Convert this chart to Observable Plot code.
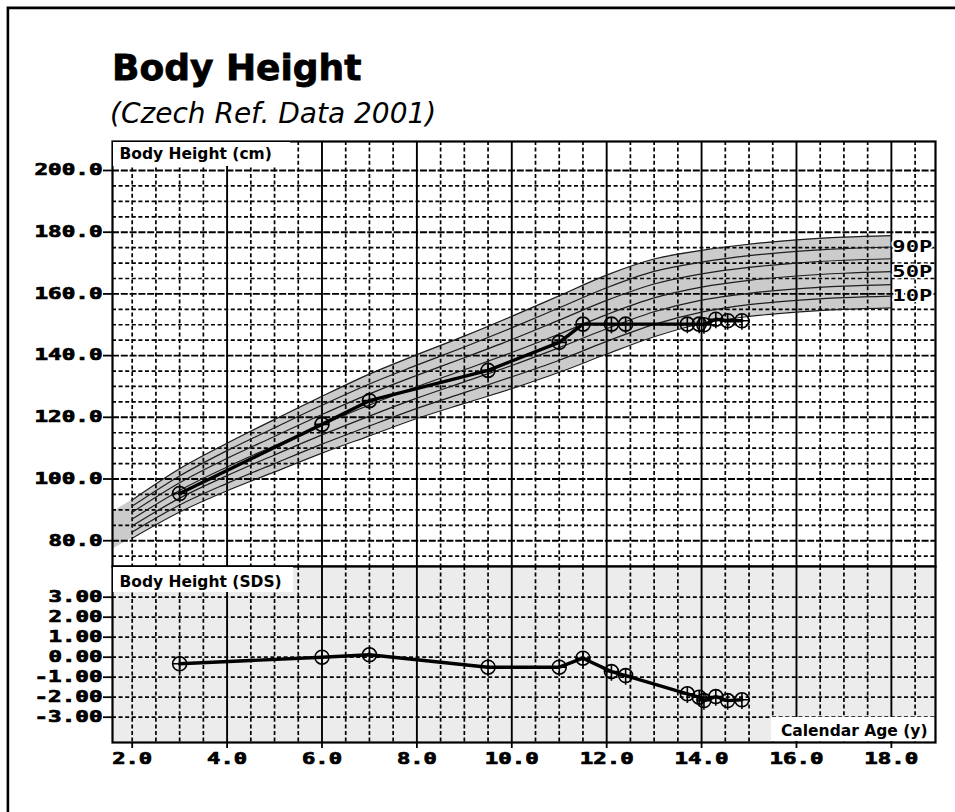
<!DOCTYPE html>
<html>
<head>
<meta charset="utf-8">
<script src="https://cdn.jsdelivr.net/npm/d3@7"></script>
<script src="https://cdn.jsdelivr.net/npm/@observablehq/plot@0.6"></script>
<style>
  body { margin: 0; background: #fff; }
  #wrap { position: relative; width: 955px; height: 812px; overflow: hidden; background: #fff; }
  #wrap > svg, #wrap > div { position: absolute; left: 0; }
  #topPlot { top: 130px; }
  #botPlot { top: 564px; }
  #overlay { top: 0; pointer-events: none; }
</style>
</head>
<body>
<div id="wrap">
  <div id="topPlot"></div>
  <div id="botPlot"></div>
</div>
<script>
// ---------- data ----------
const ageTicks = [2, 4, 6, 8, 10, 12, 14, 16, 18];
const xGridMajor = [4, 6, 8, 10, 12, 14, 16, 18];
const xGridMinor = [2.0, 2.5, 3.0, 3.5, 4.5, 5.0, 5.5, 6.5, 7.0, 7.5, 8.5, 9.0, 9.5, 10.5, 11.0, 11.5, 12.5, 13.0, 13.5, 14.5, 15.0, 15.5, 16.5, 17.0, 17.5, 18.5];
const heightTicks = [80, 100, 120, 140, 160, 180, 200];
const heightMinor = [75, 85, 90, 95, 105, 110, 115, 125, 130, 135, 145, 150, 155, 165, 170, 175, 185, 190, 195];
const sdsTicks = [3, 2, 1, 0, -1, -2, -3];

// Czech reference 2001 percentiles
const refAges = [1.5, 2, 3, 4, 5, 6, 7, 8, 9, 10, 11, 12, 13, 14, 15, 16, 17, 18];
const p3  = [76.5, 80.8, 89.3, 96.2, 102.3, 108.4, 114.0, 119.6, 124.5, 129.3, 134.6, 140.5, 146.1, 150.4, 152.7, 154.1, 155.0, 155.5];
const p10 = [78.4, 82.8, 91.6, 98.6, 105.0, 111.3, 117.2, 122.9, 128.0, 133.1, 138.5, 144.6, 150.1, 154.1, 156.5, 157.9, 158.8, 159.3];
const p25 = [80.3, 84.8, 93.8, 101.1, 107.8, 114.3, 120.4, 126.2, 131.5, 136.8, 142.6, 148.7, 154.2, 158.0, 160.2, 161.6, 162.5, 163.0];
const p50 = [82.5, 87.0, 96.3, 103.9, 110.8, 117.6, 124.0, 129.9, 135.4, 141.0, 147.0, 153.3, 158.7, 162.2, 164.4, 165.8, 166.7, 167.2];
const p75 = [84.7, 89.2, 98.8, 106.7, 113.8, 120.9, 127.6, 133.6, 139.3, 145.2, 151.5, 157.9, 163.2, 166.5, 168.6, 170.0, 170.9, 171.4];
const p90 = [86.6, 91.2, 101.0, 109.2, 116.6, 123.9, 130.8, 136.9, 142.8, 149.0, 155.5, 162.0, 167.3, 170.3, 172.4, 173.8, 174.7, 175.2];
const p97 = [88.5, 93.2, 103.3, 111.6, 119.3, 126.8, 134.0, 140.3, 146.3, 152.7, 159.4, 166.1, 171.3, 174.1, 176.1, 177.5, 178.4, 178.9];
const pctLabels = ["90P", "50P", "10P"];

// patient measurements
const patAges    = [3.0, 6.0, 7.0, 9.5, 11.0, 11.5, 12.1, 12.4, 13.7, 13.95, 14.05, 14.3, 14.55, 14.85];
const patHeights = [95.3, 117.7, 125.4, 135.2, 144.3, 150.2, 150.2, 150.2, 150.2, 150.2, 150.0, 151.8, 151.3, 151.3];
const patSDS     = [-0.33, 0.0, 0.12, -0.5, -0.5, -0.05, -0.72, -0.92, -1.83, -2.0, -2.17, -1.97, -2.17, -2.13];

// ---------- tables ----------
const ref = refAges.map((a, i) => ({age: a, p3: p3[i], p10: p10[i], p25: p25[i], p50: p50[i], p75: p75[i], p90: p90[i], p97: p97[i]}));
const refLines = ref.filter(d => d.age >= 2);
const last = ref[ref.length - 1];
const labelRows = [{label: pctLabels[0], v: last.p90}, {label: pctLabels[1], v: last.p50}, {label: pctLabels[2], v: last.p10}];
const patient = patAges.map((a, i) => ({age: a, height: patHeights[i], sds: patSDS[i]}));

// circle with crosshair marker
const crossCircle = {
  draw(ctx, size) {
    const r = Math.sqrt(size / Math.PI);
    ctx.moveTo(r, 0);
    ctx.arc(0, 0, r, 0, 2 * Math.PI);
    ctx.moveTo(-r, 0); ctx.lineTo(r, 0);
    ctx.moveTo(0, -r); ctx.lineTo(0, r * 1.3);
  }
};

const MONO = "DejaVu Sans Mono";
const xDomain = [1.585, 18.93];
const minorStyle = {stroke: "#000", strokeWidth: 1.7, strokeDasharray: "4,2.6"};
const majorV = {stroke: "#000", strokeWidth: 1.9};
const majorH = {stroke: "#000", strokeWidth: 1.9, strokeDasharray: "7,1.8"};
const tickText = {fontFamily: MONO, fontWeight: "bold", fontSize: 15, fill: "#000", strokeWidth: 1.8, label: null};

const pctKeys = ["p3", "p10", "p25", "p50", "p75", "p90", "p97"];

const topChart = Plot.plot({
  width: 955, height: 438,
  marginLeft: 112, marginRight: 20, marginTop: 11, marginBottom: 2,
  style: {background: "transparent", overflow: "visible"},
  x: {domain: xDomain, axis: null},
  y: {domain: [71.64, 209.4]},
  marks: [
    Plot.frame({fill: "#fff"}),
    Plot.areaY(ref, {x: "age", y1: "p3", y2: "p97", fill: "#cbcbcb", curve: "monotone-x", clip: true}),
    Plot.ruleX(xGridMinor, minorStyle),
    Plot.ruleX(xGridMajor, majorV),
    Plot.ruleY(heightMinor, minorStyle),
    Plot.ruleY(heightTicks, majorH),
    ...pctKeys.map(k => Plot.line(refLines, {x: "age", y: k, stroke: "#1e1e1e", strokeWidth: 1.2, curve: "monotone-x", clip: true})),
    Plot.line(patient, {x: "age", y: "height", stroke: "#000", strokeWidth: 3.4}),
    Plot.dot(patient, {x: "age", y: "height", r: 7, symbol: crossCircle, fill: "none", stroke: "#000", strokeWidth: 1.6}),
    Plot.text(labelRows, {x: () => last.age, y: "v", text: "label", textAnchor: "start", dx: 1,
      fontFamily: MONO, fontWeight: "bold", fontSize: 16, fill: "#000", stroke: "#fff", strokeWidth: 3}),
    Plot.axisY(heightTicks, {anchor: "left", tickSize: 9, tickPadding: 1, tickFormat: d => d.toFixed(1), ...tickText}),
    Plot.frame({stroke: "#000", strokeWidth: 2.2})
  ]
});

const botChart = Plot.plot({
  width: 955, height: 248,
  marginLeft: 112, marginRight: 20, marginTop: 2, marginBottom: 70,
  style: {background: "transparent", overflow: "visible"},
  x: {domain: xDomain},
  y: {domain: [-4.265, 4.535]},
  marks: [
    Plot.frame({fill: "#ececec"}),
    Plot.ruleX(xGridMinor, minorStyle),
    Plot.ruleX(xGridMajor, majorV),
    Plot.ruleY(sdsTicks, minorStyle),
    Plot.line(patient, {x: "age", y: "sds", stroke: "#000", strokeWidth: 3.4}),
    Plot.dot(patient, {x: "age", y: "sds", r: 7, symbol: crossCircle, fill: "none", stroke: "#000", strokeWidth: 1.6}),
    Plot.axisY(sdsTicks, {anchor: "left", tickSize: 9, tickPadding: 1, tickFormat: d => d.toFixed(2), ...tickText}),
    Plot.axisX(ageTicks, {anchor: "bottom", tickSize: 6, tickPadding: 5, tickFormat: d => d.toFixed(1), ...tickText}),
    Plot.frame({stroke: "#000", strokeWidth: 2.2})
  ]
});

document.getElementById("topPlot").appendChild(topChart);
document.getElementById("botPlot").appendChild(botChart);

// stretch monospace labels to the wide, heavy bitmap-like look
function stretch(svg) {
  svg.querySelectorAll("text").forEach(t => {
    const cs = getComputedStyle(t);
    const ff = cs.fontFamily || "";
    if (ff.includes("Mono")) {
      t.setAttribute("textLength", t.textContent.length * 14 - 2);
      t.setAttribute("lengthAdjust", "spacingAndGlyphs");
      const st = cs.stroke || "";
      if (!st.includes("255")) {
        t.setAttribute("stroke", "#000");
        t.setAttribute("stroke-width", 0.7);
      }
    }
  });
}
stretch(topChart);
stretch(botChart);

// ---------- overlay: titles, panel captions, page frame ----------
const ov = d3.select("#wrap").append("svg")
  .attr("id", "overlay").attr("width", 955).attr("height", 812);

ov.append("path").attr("d", "M7.9,812V7.9H955").attr("fill", "none").attr("stroke", "#000").attr("stroke-width", 2.6);

ov.append("text").attr("x", 112).attr("y", 80)
  .attr("font-family", "DejaVu Sans").attr("font-weight", "bold").attr("font-size", 36)
  .attr("stroke", "#000").attr("stroke-width", 0.8)
  .text("Body Height");
ov.append("text").attr("x", 110).attr("y", 123)
  .attr("font-family", "DejaVu Sans").attr("font-style", "italic").attr("font-size", 28)
  .text("(Czech Ref. Data 2001)");

const caps = [
  {text: "Body Height (cm)", rx: 113, ry: 142, rw: 177, rh: 24, tx: 119.5, ty: 158.5, anchor: "start"},
  {text: "Body Height (SDS)", rx: 113, ry: 567, rw: 180, rh: 25, tx: 119.5, ty: 587, anchor: "start"},
  {text: "Calendar Age (y)", rx: 771, ry: 717, rw: 163, rh: 24, tx: 927.5, ty: 735.5, anchor: "end"}
];
caps.forEach(c => {
  ov.append("rect").attr("x", c.rx).attr("y", c.ry).attr("width", c.rw).attr("height", c.rh).attr("fill", "#fff");
  ov.append("text").attr("x", c.tx).attr("y", c.ty).attr("text-anchor", c.anchor)
    .attr("font-family", "DejaVu Sans").attr("font-weight", "bold").attr("font-size", 15.5)
    .text(c.text);
});
</script>
</body>
</html>
